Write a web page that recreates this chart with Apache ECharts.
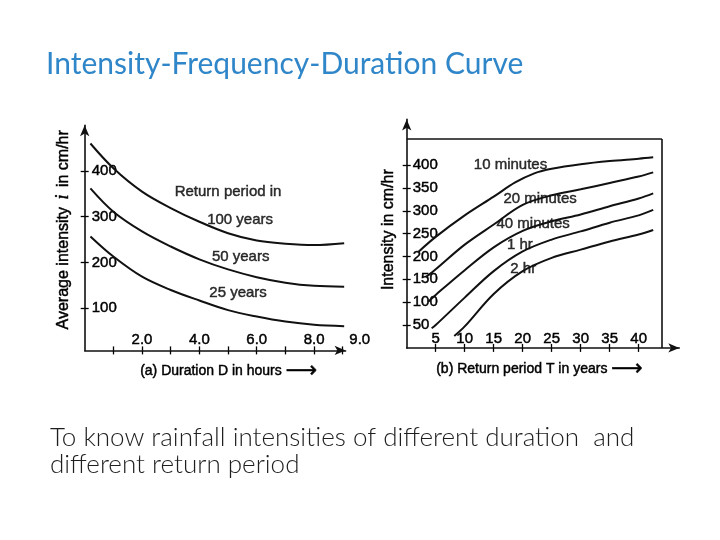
<!DOCTYPE html>
<html>
<head>
<meta charset="utf-8">
<script src="https://cdn.jsdelivr.net/npm/echarts@6/dist/echarts.min.js"></script>
<style>
html, body { margin: 0; padding: 0; background: #fff; }
#main { width: 720px; height: 540px; }
</style>
</head>
<body>
<div id="main"></div>
<script>
// ---- (a) intensity vs duration ----
var durationX = [0.2, 1, 2, 3, 4, 5, 6, 7, 8, 9.05];
var rp100 = [460, 406, 355, 319, 289, 264, 248, 241, 238, 242];
var rp50 = [362, 311, 268, 235, 207, 185, 168, 156, 149, 147];
var rp25 = [257, 213, 169, 140, 117, 96, 82, 71, 64, 61];
var durTicks = [1, 2, 3, 4, 5, 6, 7, 8, 9];
var durLabels = [2, 4, 6, 8, 9];
var intTicksA = [100, 200, 300, 400];
var notesA = [
	['Return period in', 5.0, 354],
	['100 years', 5.42, 293],
	['50 years', 5.44, 213],
	['25 years', 5.35, 133]
];

// ---- (b) intensity vs return period ----
var min10 = [[2, 210], [5, 243], [10, 290], [15, 331], [18.7, 362], [22, 382], [25, 392], [30, 402], [35, 409], [40, 414], [42.5, 417]];
var min20 = [[3.4, 156], [5, 172], [10, 226], [15, 270], [20, 313], [25, 334], [30, 347], [35, 361], [40, 375], [42.5, 384]];
var min40 = [[3.7, 101], [5, 116], [10, 170], [15, 220], [20, 256], [25, 277], [30, 292], [35, 310], [40, 327], [42.5, 338]];
var hr1 = [[4.3, 43], [5, 50], [10, 110], [15, 168], [20, 211], [25, 237], [30, 255], [35, 274], [40, 290], [42.5, 302]];
var hr2 = [[8.2, 26], [10, 47], [15, 118], [20, 168], [25, 197], [30, 215], [35, 233], [40, 248], [42.5, 258]];
var retTicks = [5, 10, 15, 20, 25, 30, 35, 40];
var intTicksB = [50, 100, 150, 200, 250, 300, 350, 400];
var boxTop = 457, boxRight = 44;
var notesB = [
	['10 minutes', 17.9, 400],
	['20 minutes', 23.0, 327],
	['40 minutes', 21.8, 271],
	['1 hr', 19.5, 225],
	['2 hr', 20.1, 174]
];

var ink = '#000';
var font = 'Liberation Sans, Arial, sans-serif';
// the scan makes the printed text look heavier than a plain regular face
var heavy = {textBorderColor: '#000', textBorderWidth: 0.45};

// second axis on the same spot, only for the inner half of the ticks
function innerTicks(kind, grid, min, max, ticks) {
	var ax = {
		type: 'value', gridIndex: grid, min: min, max: max,
		axisLine: {show: false},
		axisTick: {show: true, inside: true, length: 4, customValues: ticks, lineStyle: {color: ink, width: 1.3}},
		axisLabel: {show: false},
		splitLine: {show: false}
	};
	ax.position = kind == 'x' ? 'bottom' : 'left';
	return ax;
}

function lineSeries(name, data, xi, yi) {
	return {
		name: name, type: 'line', xAxisIndex: xi, yAxisIndex: yi,
		data: data, smooth: 0.35, showSymbol: false, symbol: 'none',
		lineStyle: {color: '#111', width: 2}, silent: true
	};
}

function noteSeries(notes, xi, yi) {
	return {
		type: 'scatter', xAxisIndex: xi, yAxisIndex: yi, symbolSize: 0, silent: true,
		data: notes.map(function(n) { return {value: [n[1], n[2]], name: n[0]}; }),
		label: Object.assign({show: true, position: 'inside', formatter: '{b}', color: ink, fontSize: 15, fontFamily: font}, heavy)
	};
}

function tickText(extra) {
	return Object.assign({inside: true, color: ink, fontSize: 15, fontFamily: font}, heavy, extra);
}

var axisLine = {show: true, onZero: false, symbol: ['none', 'arrow'], symbolSize: [7, 11], lineStyle: {color: '#111', width: 1.6}};

var option = {
	backgroundColor: '#fff',
	animation: false,
	title: [{
		text: 'Intensity-Frequency-Duration Curve',
		left: 46, top: 49, padding: 0,
		textStyle: {fontFamily: 'Lato, sans-serif', fontSize: 30, fontWeight: 'normal', color: '#2f86c9'}
	}, {
		text: 'To know rainfall intensities of different duration  and\ndifferent return period',
		left: 50, top: 424, padding: 0,
		textStyle: {fontFamily: 'Lato, sans-serif', fontSize: 26, fontWeight: 300, color: '#1e1e1e', lineHeight: 27}
	}],
	grid: [
		{left: 84.7, top: 125.2, width: 260.9, height: 225.2},
		{left: 406.7, top: 119.4, width: 272.6, height: 228.5}
	],
	xAxis: [{
		type: 'value', gridIndex: 0, min: 0, max: 9.1, position: 'bottom',
		axisLine: axisLine,
		axisTick: {show: true, length: 4, customValues: durTicks, lineStyle: {color: ink, width: 1.3}},
		axisLabel: tickText({
			margin: 3, customValues: durLabels,
			formatter: function(v) { return v == 9 ? '{far|9.0}' : v.toFixed(1); },
			rich: {far: Object.assign({padding: [0, 0, 0, 34], color: ink, fontSize: 15, fontFamily: font}, heavy)}
		}),
		splitLine: {show: false},
		name: '(a) Duration D in hours {ar|⟶}', nameLocation: 'middle', nameGap: 10,
		nameTextStyle: Object.assign({color: ink, fontSize: 14, fontFamily: font, padding: [0, 0, 0, 27],
			rich: {ar: {fontSize: 22, fontFamily: 'DejaVu Sans', color: ink}}}, heavy)
	}, innerTicks('x', 0, 0, 9.1, durTicks), {
		type: 'value', gridIndex: 1, min: 0, max: 47, position: 'bottom',
		axisLine: axisLine,
		axisTick: {show: true, length: 4, customValues: retTicks, lineStyle: {color: ink, width: 1.3}},
		axisLabel: tickText({margin: 2, customValues: retTicks}),
		splitLine: {show: false},
		name: '(b) Return period T in years {ar|⟶}', nameLocation: 'middle', nameGap: 10,
		nameTextStyle: Object.assign({color: ink, fontSize: 14, fontFamily: font, padding: [0, 7, 0, 0],
			rich: {ar: {fontSize: 22, fontFamily: 'DejaVu Sans', color: ink}}}, heavy)
	}, innerTicks('x', 1, 0, 47, retTicks)],
	yAxis: [{
		type: 'value', gridIndex: 0, min: 8, max: 500, position: 'left',
		axisLine: axisLine,
		axisTick: {show: true, length: 4, customValues: intTicksA, lineStyle: {color: ink, width: 1.3}},
		axisLabel: tickText({margin: 7, customValues: intTicksA}),
		splitLine: {show: false},
		name: 'Average intensity {it|i} in cm/hr', nameLocation: 'middle', nameGap: 12, nameRotate: 90,
		nameTextStyle: Object.assign({color: ink, fontSize: 16, fontFamily: font, padding: [0, 0, 0, 16],
			rich: {it: {fontStyle: 'italic', fontFamily: 'Liberation Serif', fontSize: 18, color: ink, padding: [0, 3]}}}, heavy)
	}, innerTicks('y', 0, 8, 500, intTicksA), {
		type: 'value', gridIndex: 1, min: 0, max: 500, position: 'left',
		axisLine: axisLine,
		axisTick: {show: true, length: 4, customValues: intTicksB, lineStyle: {color: ink, width: 1.3}},
		axisLabel: tickText({margin: 6, customValues: intTicksB}),
		splitLine: {show: false},
		name: 'Intensity in cm/hr', nameLocation: 'middle', nameGap: 10, nameRotate: 90,
		nameTextStyle: Object.assign({color: ink, fontSize: 16, fontFamily: font, padding: [0, 0, 0, 8]}, heavy)
	}, innerTicks('y', 1, 0, 500, intTicksB)],
	series: [
		lineSeries('100 years', durationX.map(function(x, i) { return [x, rp100[i]]; }), 0, 0),
		lineSeries('50 years', durationX.map(function(x, i) { return [x, rp50[i]]; }), 0, 0),
		lineSeries('25 years', durationX.map(function(x, i) { return [x, rp25[i]]; }), 0, 0),
		noteSeries(notesA, 0, 0),
		lineSeries('10 minutes', min10, 2, 2),
		lineSeries('20 minutes', min20, 2, 2),
		lineSeries('40 minutes', min40, 2, 2),
		lineSeries('1 hr', hr1, 2, 2),
		lineSeries('2 hr', hr2, 2, 2),
		noteSeries(notesB, 2, 2)
	]
};

// frame round panel (b)
option.series[4].markLine = {
	silent: true, symbol: 'none', label: {show: false},
	lineStyle: {color: '#111', width: 1.6, type: 'solid'},
	data: [
		[{coord: [0, boxTop]}, {coord: [boxRight, boxTop]}],
		[{coord: [boxRight, boxTop]}, {coord: [boxRight, 0]}]
	]
};

var chart = echarts.init(document.getElementById('main'));
chart.setOption(option);
</script>
</body>
</html>
